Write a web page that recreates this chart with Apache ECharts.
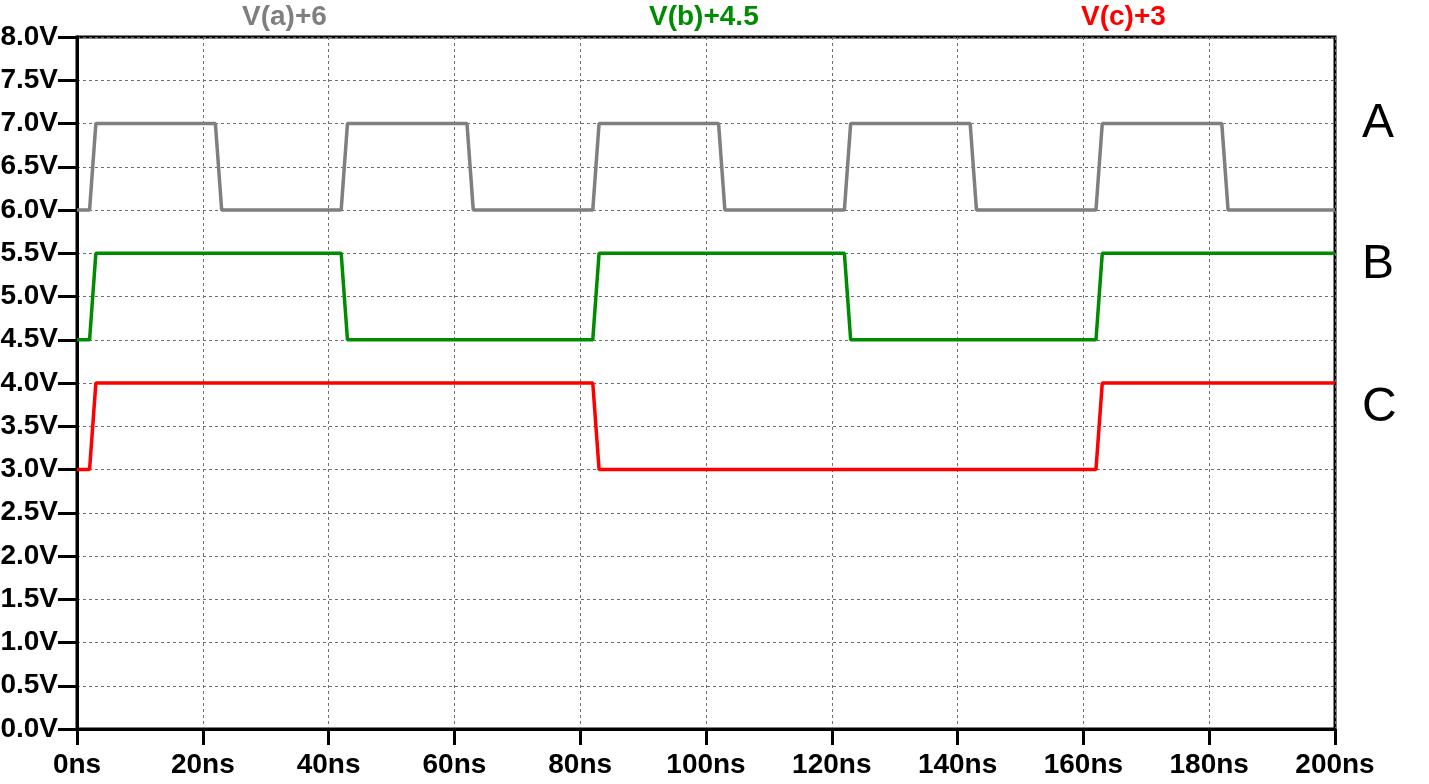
<!DOCTYPE html>
<html><head><meta charset="utf-8">
<script src="https://cdn.jsdelivr.net/npm/echarts@6/dist/echarts.min.js"></script>
<style>html,body{margin:0;padding:0;background:#fff}#c{width:1429px;height:784px}</style>
</head><body><div id="c"></div>
<script>
const timeA = [0,2,3,22,23,42,43,62,63,82,83,102,103,122,123,142,143,162,163,182,183,200];
const voltA = [6,6,7,7,6,6,7,7,6,6,7,7,6,6,7,7,6,6,7,7,6,6];
const timeB = [0,2,3,42,43,82,83,122,123,162,163,200];
const voltB = [4.5,4.5,5.5,5.5,4.5,4.5,5.5,5.5,4.5,4.5,5.5,5.5];
const timeC = [0,2,3,82,83,162,163,200];
const voltC = [3,3,4,4,3,3,4,4];
const seriesNames = ['V(a)+6','V(b)+4.5','V(c)+3'];
const seriesColors = ['#7f7f7f','#008c00','#ff0000'];
const sideLabels = ['A','B','C'];

const zip = (t,v) => t.map((x,i)=>[x,v[i]]);
const chart = echarts.init(document.getElementById('c'));
const font = 'Liberation Sans, Arial, sans-serif';
const axisCommon = {
  axisLine:{show:true,lineStyle:{color:'#000',width:3}},
  axisTick:{show:true,lineStyle:{color:'#000',width:3}},
  splitLine:{show:true,lineStyle:{color:'#707070',width:1,type:[3,3]}},
  axisLabel:{color:'#000',fontFamily:font,fontWeight:'bold',fontSize:28}
};
chart.setOption({
  animation:false,
  grid:{left:77,top:37,right:94,bottom:55,containLabel:false,outerBoundsMode:'none',show:true,borderColor:'#000',borderWidth:3,backgroundColor:'transparent'},
  xAxis:Object.assign({},axisCommon,{type:'value',min:0,max:200,interval:20,
    axisTick:{show:true,length:16,lineStyle:{color:'#000',width:3}},
    axisLabel:Object.assign({},axisCommon.axisLabel,{margin:22,formatter:v=>v+'ns'})}),
  yAxis:Object.assign({},axisCommon,{type:'value',min:0,max:8,interval:0.5,
    axisTick:{show:true,length:19,lineStyle:{color:'#000',width:3}},
    axisLabel:Object.assign({},axisCommon.axisLabel,{margin:19,formatter:v=>v.toFixed(1)+'V'})}),
  series:[
    {name:seriesNames[0],type:'line',data:zip(timeA,voltA),showSymbol:false,lineStyle:{color:seriesColors[0],width:3.5},z:3},
    {name:seriesNames[1],type:'line',data:zip(timeB,voltB),showSymbol:false,lineStyle:{color:seriesColors[1],width:3.5},z:3},
    {name:seriesNames[2],type:'line',data:zip(timeC,voltC),showSymbol:false,lineStyle:{color:seriesColors[2],width:3.5},z:3}
  ],
  graphic:[
    {type:'text',left:242,top:3,style:{text:seriesNames[0],fill:seriesColors[0],font:'bold 28px '+font}},
    {type:'text',left:649,top:3,style:{text:seriesNames[1],fill:seriesColors[1],font:'bold 28px '+font}},
    {type:'text',left:1081,top:3,style:{text:seriesNames[2],fill:seriesColors[2],font:'bold 28px '+font}},
    {type:'text',left:1362,top:100,style:{text:sideLabels[0],fill:'#000',font:'48px '+font}},
    {type:'text',left:1362,top:241,style:{text:sideLabels[1],fill:'#000',font:'48px '+font}},
    {type:'text',left:1362,top:384,style:{text:sideLabels[2],fill:'#000',font:'48px '+font}}
  ]
});
</script></body></html>
